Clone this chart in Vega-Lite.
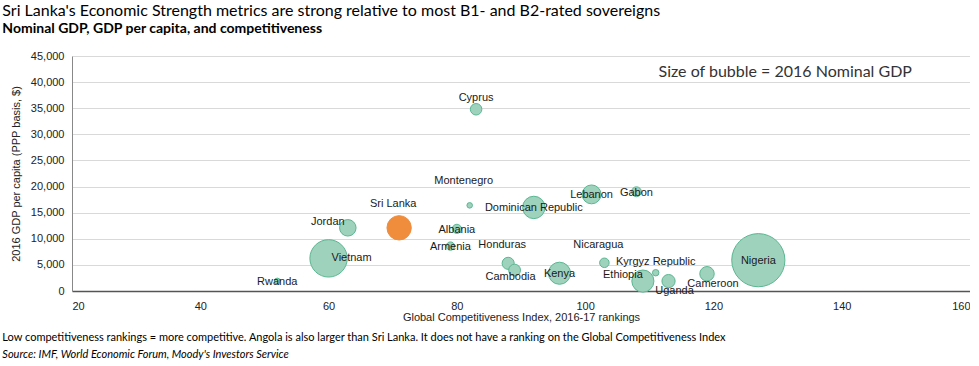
{
  "$schema": "https://vega.github.io/schema/vega-lite/v6.json",
  "padding": {"left": 2, "top": 3, "right": 0, "bottom": 0},
  "background": "white",
  "title": {
    "text": "Sri Lanka's Economic Strength metrics are strong relative to most B1- and B2-rated sovereigns",
    "subtitle": "Nominal GDP, GDP per capita, and competitiveness",
    "anchor": "start",
    "frame": "bounds",
    "font": "Lato",
    "fontSize": 16,
    "fontWeight": "normal",
    "color": "#000000",
    "subtitleFont": "Lato",
    "subtitleFontSize": 14,
    "subtitleFontWeight": "bold",
    "subtitleColor": "#000000",
    "subtitlePadding": 3,
    "offset": 14
  },
  "config": {"view": {"stroke": null}, "font": "Liberation Sans"},
  "vconcat": [
    {
      "width": 898,
      "height": 235,
      "title": {
        "text": "Low competitiveness rankings = more competitive. Angola is also larger than Sri Lanka. It does not have a ranking on the Global Competitiveness Index",
        "subtitle": "Source: IMF, World Economic Forum, Moody's Investors Service",
        "orient": "bottom",
        "anchor": "start",
        "frame": "bounds",
        "dx": -8,
        "font": "Lato",
        "fontSize": 11,
        "fontWeight": "normal",
        "color": "#000000",
        "subtitleFont": "Lato",
        "subtitleFontSize": 11,
        "subtitleFontStyle": "italic",
        "subtitleColor": "#000000",
        "subtitlePadding": 6,
        "offset": 10
      },
      "layer": [
        {
          "data": {
            "values": [
              {"country": "Cyprus", "gci": 83, "gdppc": 34800, "gdp": 19},
              {"country": "Montenegro", "gci": 82, "gdppc": 16400, "gdp": 4.4},
              {"country": "Sri Lanka", "gci": 71, "gdppc": 12100, "gdp": 85},
              {"country": "Jordan", "gci": 63, "gdppc": 12100, "gdp": 39},
              {"country": "Vietnam", "gci": 60, "gdppc": 6250, "gdp": 200},
              {"country": "Albania", "gci": 80, "gdppc": 11900, "gdp": 12},
              {"country": "Armenia", "gci": 79, "gdppc": 8600, "gdp": 10},
              {"country": "Rwanda", "gci": 52, "gdppc": 1900, "gdp": 5},
              {"country": "Honduras", "gci": 88, "gdppc": 5300, "gdp": 21},
              {"country": "Cambodia", "gci": 89, "gdppc": 4000, "gdp": 20},
              {"country": "Dominican Republic", "gci": 92, "gdppc": 16000, "gdp": 72},
              {"country": "Lebanon", "gci": 101, "gdppc": 18500, "gdp": 51},
              {"country": "Gabon", "gci": 108, "gdppc": 19000, "gdp": 14},
              {"country": "Nicaragua", "gci": 103, "gdppc": 5400, "gdp": 13},
              {"country": "Kenya", "gci": 96, "gdppc": 3400, "gdp": 70},
              {"country": "Ethiopia", "gci": 109, "gdppc": 1900, "gdp": 70},
              {"country": "Kyrgyz Republic", "gci": 111, "gdppc": 3500, "gdp": 6},
              {"country": "Uganda", "gci": 113, "gdppc": 1900, "gdp": 25},
              {"country": "Cameroon", "gci": 119, "gdppc": 3300, "gdp": 30},
              {"country": "Nigeria", "gci": 127, "gdppc": 5900, "gdp": 405}
            ]
          },
          "encoding": {
            "x": {
              "field": "gci",
              "type": "quantitative",
              "scale": {"domain": [20, 160], "nice": false, "zero": false},
              "axis": {
                "values": [20, 40, 60, 80, 100, 120, 140, 160],
                "grid": false,
                "ticks": false,
                "domainColor": "#555555",
                "domainWidth": 1.5,
                "labelFont": "Liberation Sans",
                "labelFontSize": 11,
                "labelColor": "#222222",
                "labelPadding": 9,
                "titleFont": "Liberation Sans",
                "titleFontSize": 11,
                "titleFontWeight": "normal",
                "titleColor": "#222222",
                "titlePadding": 0
              },
              "title": "Global Competitiveness Index, 2016-17 rankings"
            },
            "y": {
              "field": "gdppc",
              "type": "quantitative",
              "scale": {"domain": [0, 45000], "nice": false},
              "axis": {
                "values": [0, 5000, 10000, 15000, 20000, 25000, 30000, 35000, 40000, 45000],
                "format": ",.0f",
                "grid": true,
                "gridColor": "#d9d9d9",
                "ticks": false,
                "domainColor": "#888888",
                "labelFont": "Liberation Sans",
                "labelFontSize": 11,
                "labelColor": "#222222",
                "labelPadding": 8,
                "titleFont": "Liberation Sans",
                "titleFontSize": 11,
                "titleFontWeight": "normal",
                "titleColor": "#222222",
                "titlePadding": 9
              },
              "title": "2016 GDP per capita (PPP basis, $)"
            }
          },
          "layer": [
            {
              "mark": {"type": "circle", "opacity": 1, "strokeWidth": 1},
              "encoding": {
                "size": {"field": "gdp", "type": "quantitative", "scale": {"domain": [0, 405], "range": [0, 2827]}, "legend": null},
                "fill": {"condition": {"test": "datum.country === 'Sri Lanka'", "value": "#ef8d3d"}, "value": "#9fd2bc"},
                "stroke": {"condition": {"test": "datum.country === 'Sri Lanka'", "value": "#ef8d3d"}, "value": "#5ab792"},
                "order": {"field": "gdp", "sort": "descending"}
              }
            },
            {
              "transform": [{"filter": {"field": "country", "oneOf": ["Albania", "Armenia", "Rwanda", "Dominican Republic", "Lebanon", "Gabon", "Kenya", "Nigeria"]}}],
              "mark": {"type": "text", "font": "Liberation Sans", "fontSize": 11, "color": "#1a1a1a", "baseline": "middle", "align": "center", "dy": 1},
              "encoding": {"text": {"field": "country"}}
            },
            {
              "transform": [{"filter": {"field": "country", "oneOf": ["Montenegro", "Sri Lanka"]}}],
              "mark": {"type": "text", "font": "Liberation Sans", "fontSize": 11, "color": "#1a1a1a", "baseline": "middle", "align": "center", "dx": -6, "dy": -24},
              "encoding": {"text": {"field": "country"}}
            },
            {
              "transform": [{"filter": {"field": "country", "oneOf": ["Honduras", "Nicaragua"]}}],
              "mark": {"type": "text", "font": "Liberation Sans", "fontSize": 11, "color": "#1a1a1a", "baseline": "middle", "align": "center", "dx": -6, "dy": -18},
              "encoding": {"text": {"field": "country"}}
            },
            {
              "transform": [{"filter": {"field": "country", "oneOf": ["Cyprus", "Kyrgyz Republic"]}}],
              "mark": {"type": "text", "font": "Liberation Sans", "fontSize": 11, "color": "#1a1a1a", "baseline": "middle", "align": "center", "dy": -11},
              "encoding": {"text": {"field": "country"}}
            },
            {
              "transform": [{"filter": {"field": "country", "oneOf": ["Uganda", "Cameroon"]}}],
              "mark": {"type": "text", "font": "Liberation Sans", "fontSize": 11, "color": "#1a1a1a", "baseline": "middle", "align": "center", "dx": 6, "dy": 10},
              "encoding": {"text": {"field": "country"}}
            },
            {
              "transform": [{"filter": {"field": "country", "equal": "Cambodia"}}],
              "mark": {"type": "text", "font": "Liberation Sans", "fontSize": 11, "color": "#1a1a1a", "baseline": "middle", "align": "center", "dx": -4, "dy": 7},
              "encoding": {"text": {"field": "country"}}
            },
            {
              "transform": [{"filter": {"field": "country", "oneOf": ["Jordan", "Ethiopia"]}}],
              "mark": {"type": "text", "font": "Liberation Sans", "fontSize": 11, "color": "#1a1a1a", "baseline": "middle", "align": "center", "dx": -20, "dy": -6},
              "encoding": {"text": {"field": "country"}}
            },
            {
              "transform": [{"filter": {"field": "country", "equal": "Vietnam"}}],
              "mark": {"type": "text", "font": "Liberation Sans", "fontSize": 11, "color": "#1a1a1a", "baseline": "middle", "align": "center", "dx": 23},
              "encoding": {"text": {"field": "country"}}
            }
          ]
        },
        {
          "data": {"values": [{"note": "Size of bubble = 2016 Nominal GDP"}]},
          "mark": {"type": "text", "font": "Lato", "fontSize": 16, "color": "#333333", "baseline": "middle", "align": "center"},
          "encoding": {
            "x": {
              "datum": 131.2,
              "type": "quantitative",
              "axis": {
                "values": [20, 40, 60, 80, 100, 120, 140, 160],
                "grid": false,
                "ticks": false,
                "domainColor": "#555555",
                "domainWidth": 1.5,
                "labelFont": "Liberation Sans",
                "labelFontSize": 11,
                "labelColor": "#222222",
                "labelPadding": 9,
                "titleFont": "Liberation Sans",
                "titleFontSize": 11,
                "titleFontWeight": "normal",
                "titleColor": "#222222",
                "titlePadding": 0
              },
              "title": "Global Competitiveness Index, 2016-17 rankings"
            },
            "y": {
              "datum": 41900,
              "type": "quantitative",
              "axis": {
                "values": [0, 5000, 10000, 15000, 20000, 25000, 30000, 35000, 40000, 45000],
                "format": ",.0f",
                "grid": true,
                "gridColor": "#d9d9d9",
                "ticks": false,
                "domainColor": "#888888",
                "labelFont": "Liberation Sans",
                "labelFontSize": 11,
                "labelColor": "#222222",
                "labelPadding": 8,
                "titleFont": "Liberation Sans",
                "titleFontSize": 11,
                "titleFontWeight": "normal",
                "titleColor": "#222222",
                "titlePadding": 9
              },
              "title": "2016 GDP per capita (PPP basis, $)"
            },
            "text": {"field": "note", "type": "nominal"}
          }
        }
      ]
    }
  ]
}
